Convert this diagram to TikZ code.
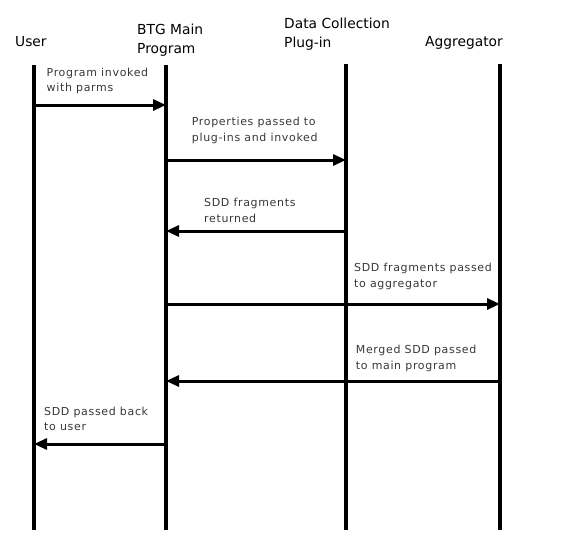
\documentclass[tikz,border=0pt]{standalone}
\usepackage{fontspec}
\setmainfont{DejaVu Sans}
\newfontfamily\lblfont[LetterSpace=6]{DejaVu Sans}
\usetikzlibrary{arrows.meta}
\begin{document}
\begin{tikzpicture}[x=1pt,y=-1pt,
  head/.style={anchor=base west,align=left,font=\fontsize{13.8}{19}\selectfont,inner sep=0pt},
  lbl/.style={anchor=base west,align=left,font=\lblfont\fontsize{11}{15.5}\selectfont,text=black!78,inner sep=0pt},
  life/.style={line width=3.2pt},
  msg/.style={line width=3pt,-{Triangle[length=13pt,width=11pt]}}]
\useasboundingbox (0,0) rectangle (571,554);
% headers (anchor = baseline of the last line)
\node[head] (hu) at (15,46.7) {User};
\node[head] (hb) at (137,53.2) {BTG Main\\Program};
\node[head] (hd) at (284,47.3) {Data Collection\\Plug-in};
\node[head] (ha) at (425,46.7) {Aggregator};
% lifelines
\coordinate (u0) at (34,65);  \coordinate (u1) at (34,530);
\coordinate (b0) at (166,65); \coordinate (b1) at (166,530);
\coordinate (d0) at (346,64); \coordinate (d1) at (346,530);
\coordinate (a0) at (500,64); \coordinate (a1) at (500,530);
\draw[life] (u0) -- (u1);
\draw[life] (b0) -- (b1);
\draw[life] (d0) -- (d1);
\draw[life] (a0) -- (a1);
% message endpoints
\coordinate (m1s) at (34,105);  \coordinate (m1e) at (166,105);
\coordinate (m2s) at (166,160); \coordinate (m2e) at (346,160);
\coordinate (m3s) at (346,231); \coordinate (m3e) at (166,231);
\coordinate (m4s) at (166,304); \coordinate (m4e) at (500,304);
\coordinate (m5s) at (500,381); \coordinate (m5e) at (166,381);
\coordinate (m6s) at (166,444); \coordinate (m6e) at (34,444);
\draw[msg] (m1s) -- (m1e);
\draw[msg] (m2s) -- (m2e);
\draw[msg] (m3s) -- (m3e);
\draw[msg] (m4s) -- (m4e);
\draw[msg] (m5s) -- (m5e);
\draw[msg] (m6s) -- (m6e);
% labels (anchor = baseline of the last line)
\node[lbl] (l1) at (46.5,91.5) {Program invoked\\with parms};
\node[lbl] (l2) at (191.7,141.2) {Properties passed to\\plug-ins and invoked};
\node[lbl] (l3) at (204,222.2) {SDD fragments\\returned};
\node[lbl] (l4) at (354,287.2) {SDD fragments passed\\to aggregator};
\node[lbl] (l5) at (355.7,369.2) {Merged SDD passed\\to main program};
\node[lbl] (l6) at (44,430.8) {SDD passed back\\to user};
\end{tikzpicture}
\end{document}
